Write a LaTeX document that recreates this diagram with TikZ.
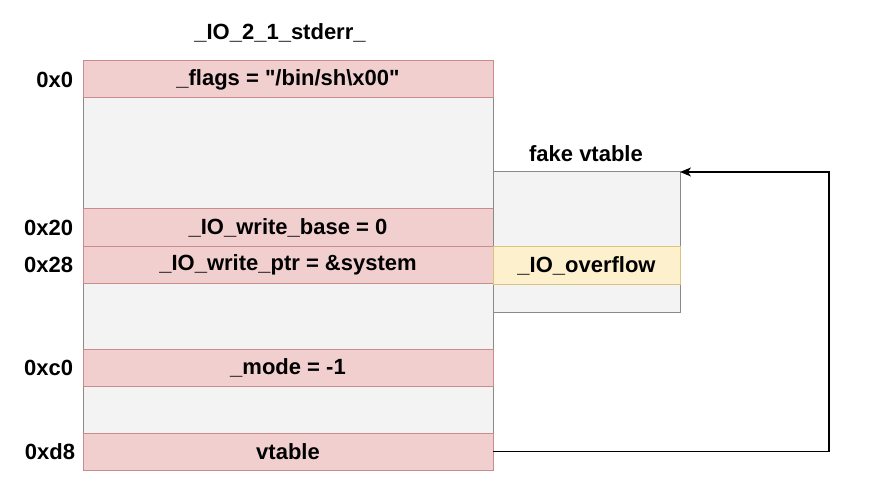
\documentclass[tikz,border=0pt]{standalone}
\usepackage{fontspec}
\setmainfont{Liberation Sans}[Ligatures=TeXOff]
\usetikzlibrary{arrows.meta}
\definecolor{pinkfill}{HTML}{F2CFCF}
\definecolor{pinkline}{HTML}{C98B8B}
\definecolor{grayfill}{HTML}{F3F3F3}
\definecolor{grayline}{HTML}{8A8A8A}
\definecolor{yelfill}{HTML}{FDF1CD}
\definecolor{yelline}{HTML}{DCC27E}
\begin{document}
\begin{tikzpicture}[x=1pt,y=-1pt,
  every node/.style={font=\fontsize{22}{26}\selectfont\bfseries, inner sep=0pt, outer sep=0pt},
  cell/.style={draw, line width=1pt, anchor=north west, minimum width=410pt},
  pinkcell/.style={cell, fill=pinkfill, draw=pinkline},
  graycell/.style={cell, fill=grayfill, draw=grayline},
  vtcell/.style={draw, line width=1pt, anchor=north west, minimum width=187pt},
  offs/.style={anchor=east},
  link/.style={line width=1.3pt, -{Stealth[length=11pt,width=9pt,inset=3pt]}}
]
\useasboundingbox (0,0) rectangle (872,486);
% struct
\node[graycell, minimum height=111pt] (g1) at (83,98) {};
\node[graycell, minimum height=66pt] (g2) at (83,283) {};
\node[graycell, minimum height=47pt] (g3) at (83,386) {};
\node[pinkcell, minimum height=37pt] (fl) at (83,61) {\_flags = "/bin/sh\textbackslash x00"};
\node[pinkcell, minimum height=38pt] (wb) at (83,209) {\_IO\_write\_base = 0};
\node[pinkcell, minimum height=36pt] (wp) at (83,247) {\_IO\_write\_ptr = \&system};
\node[pinkcell, minimum height=37pt] (md) at (83,349) {\_mode = -1};
\node[pinkcell, minimum height=37pt] (vt) at (83,433) {vtable};
\node (title) at (280,33) {\_IO\_2\_1\_stderr\_};
% offsets
\node[offs] (o0) at (73,79.5) {0x0};
\node[offs] (o20) at (73,228) {0x20};
\node[offs] (o28) at (73,265) {0x28};
\node[offs] (oc0) at (73,367.5) {0xc0};
\node[offs] (od8) at (75,451.5) {0xd8};
% fake vtable
\node[vtcell, fill=grayfill, draw=grayline, minimum height=140pt] (fv) at (493,172) {};
\node[vtcell, fill=yelfill, draw=yelline, minimum height=37pt] (ov) at (493,247) {\_IO\_overflow};
\node (fvt) at (586,154) {fake vtable};
% connector
\coordinate (bend) at (829,451.5);
\draw[link] (vt.east) -- (bend) |- (fv.north east);
\end{tikzpicture}
\end{document}
